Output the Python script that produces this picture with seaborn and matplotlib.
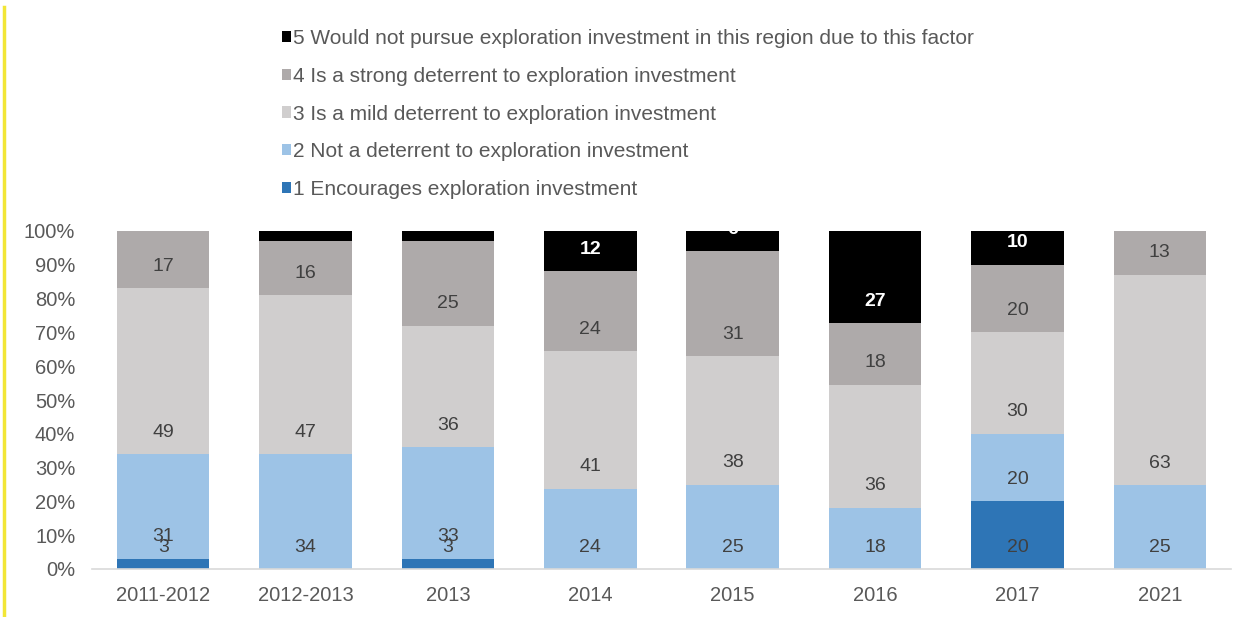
import numpy as np
import pandas as pd
import matplotlib
matplotlib.use("Agg")
import matplotlib.pyplot as plt
import seaborn as sns
from matplotlib.patches import Patch
from matplotlib.lines import Line2D

# ---- data (percent of respondents) ----
periods = ["2011-2012", "2012-2013", "2013", "2014", "2015", "2016", "2017", "2021"]
encourages = [3, 0, 3, 0, 0, 0, 20, 0]
not_deterrent = [31, 34, 33, 24, 25, 18, 20, 25]
mild_deterrent = [49, 47, 36, 41, 38, 36, 30, 63]
strong_deterrent = [17, 16, 25, 24, 31, 18, 20, 13]
would_not_pursue = [0, 3, 3, 12, 6, 27, 10, 0]

series_names = [
    "1 Encourages exploration investment",
    "2 Not a deterrent to exploration investment",
    "3 Is a mild deterrent to exploration investment",
    "4 Is a strong deterrent to exploration investment",
    "5 Would not pursue exploration investment in this region due to this factor",
]
colors = ["#2E75B6", "#9DC3E6", "#D0CECE", "#AEAAAA", "#000000"]

vals = np.array([encourages, not_deterrent, mild_deterrent,
                 strong_deterrent, would_not_pursue], dtype=float)
# 100% stacked: normalise each column
shares = vals / vals.sum(axis=0) * 100
cum = np.cumsum(shares, axis=0)
bases = cum - shares

plt.rcParams["font.family"] = ["Liberation Sans", "DejaVu Sans"]
fig = plt.figure(figsize=(12.46, 6.17), dpi=100)
ax = fig.add_axes([92 / 1246, 48 / 617, (1231 - 92) / 1246, (569 - 231) / 617])

# draw cumulative totals from the top layer down so each layer covers the one above
for k in range(len(series_names) - 1, -1, -1):
    df = pd.DataFrame({"period": periods, "value": cum[k]})
    sns.barplot(data=df, x="period", y="value", color=colors[k], width=0.65,
                linewidth=0, saturation=1, ax=ax, zorder=2)

# data labels sit just above the base of each segment (Excel "inside base")
for k in range(len(series_names)):
    for i in range(len(periods)):
        if vals[k, i] <= 0:
            continue
        is_black = k == 4
        ax.text(i, bases[k, i] + 6.5, f"{int(vals[k, i])}", ha="center", va="center",
                fontsize=14, color="white" if is_black else "#404040",
                fontweight="bold" if is_black else "normal", zorder=3)

ax.set_ylim(0, 100)
ax.set_xlim(-0.5, len(periods) - 0.5)
ax.set_yticks(np.arange(0, 101, 10))
ax.set_yticklabels([f"{t}%" for t in range(0, 101, 10)])
ax.set_xlabel("")
ax.set_ylabel("")
for s in ["top", "right", "left"]:
    ax.spines[s].set_visible(False)
ax.spines["bottom"].set_color("#D9D9D9")
ax.spines["bottom"].set_linewidth(1.2)
ax.tick_params(axis="both", length=0, labelsize=14.5, labelcolor="#595959")
ax.tick_params(axis="x", pad=12)
ax.tick_params(axis="y", pad=12)

# legend stacked vertically above the plot, 5 at the top
handles = [Patch(facecolor=colors[k], edgecolor="none") for k in range(4, -1, -1)]
labels = [series_names[k] for k in range(4, -1, -1)]
leg = fig.legend(handles, labels, loc="upper left", bbox_to_anchor=(282 / 1246, 1 - 29 / 617),
                 frameon=False, fontsize=15, handlelength=0.45, handleheight=0.45,
                 handletextpad=0.1, labelspacing=0.9, borderaxespad=0, borderpad=0)
for t in leg.get_texts():
    t.set_color("#595959")

# thin yellow rule at the left edge of the picture
fig.add_artist(Line2D([4 / 1246, 4 / 1246], [1 - 7 / 617, 1 - 615 / 617],
                      color="#F2E636", linewidth=2.5))

fig.savefig("out.png", dpi=100)
